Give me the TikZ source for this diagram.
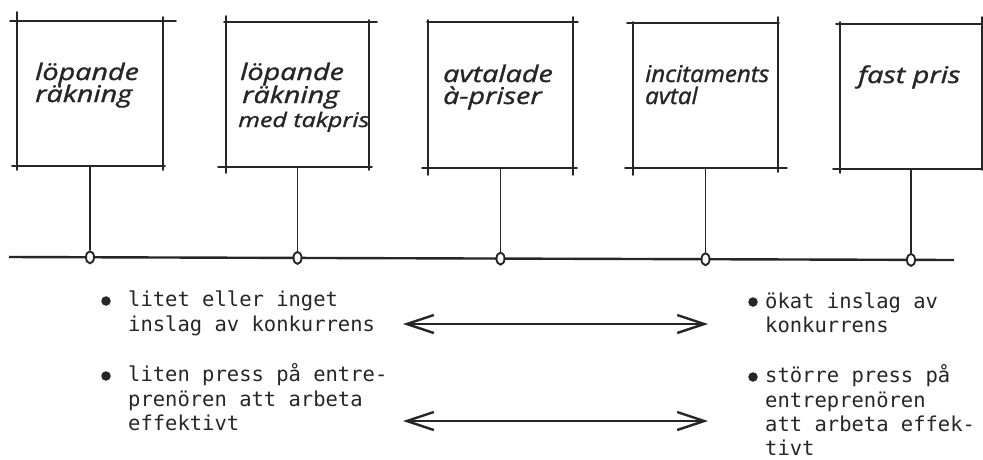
\documentclass[tikz,border=0pt]{standalone}
\usepackage{fontspec}
\usetikzlibrary{arrows.meta,shapes.geometric}
\newfontfamily\handfont[FakeStretch=1.25,FakeBold=1.3]{Open Sans}
\newfontfamily\handnarrow[FakeStretch=1.05,FakeBold=1.3]{Open Sans}
\newfontfamily\typefont{DejaVu Sans Mono}
\definecolor{ink}{HTML}{262626}
\tikzset{
  boxarea/.style={rectangle,draw=none,inner sep=0pt,outer sep=0pt},
  boxline/.style={draw=ink,line width=1.8pt,line cap=round},
  stem/.style={draw=ink,line width=1.2pt},
  mainline/.style={draw=ink,line width=2.4pt},
  knot/.style={ellipse,draw=ink,fill=white,line width=1.9pt,minimum width=8pt,minimum height=12pt,inner sep=0pt},
  hand/.style={anchor=base west,inner sep=0pt,text=ink,font=\handfont\itshape\fontsize{23}{23}\selectfont},
  handsmall/.style={hand,font=\handfont\itshape\fontsize{20}{20}\selectfont},
  handmid/.style={hand,font=\handnarrow\itshape\fontsize{23}{23}\selectfont},
  typed/.style={anchor=base west,inner sep=0pt,text=ink,font=\typefont\fontsize{20.5}{24}\selectfont},
  bullet/.style={circle,fill=ink,inner sep=0pt,minimum size=9.5pt},
  dblarrow/.style={draw=ink,line width=2pt,
    {Straight Barb[length=27pt,width=18pt,line width=2.4pt]}-{Straight Barb[length=27pt,width=18pt,line width=2.4pt]}}
}
\begin{document}
\begin{tikzpicture}[x=1pt,y=-1pt]
\fill[white] (0,0) rectangle (983,459);
\useasboundingbox (0,0) rectangle (983,459);

% box areas
\node[boxarea,minimum width=146pt,minimum height=145pt] (b1) at (90,93.5) {};
\node[boxarea,minimum width=143pt,minimum height=145pt] (b2) at (297.5,94.5) {};
\node[boxarea,minimum width=145pt,minimum height=146pt] (b3) at (500.5,95) {};
\node[boxarea,minimum width=145pt,minimum height=145pt] (b4) at (705.5,95.5) {};
\node[boxarea,minimum width=142pt,minimum height=145pt] (b5) at (911,96.5) {};

% box sides, sketched with overshooting ends
\draw[boxline] (10,21) -- (176,21);
\draw[boxline] (12,166) -- (165,166);
\draw[boxline] (17,12) -- (17,170);
\draw[boxline] (163,17) -- (163,170);

\draw[boxline] (224,22) -- (377,22);
\draw[boxline] (218,167) -- (372,167);
\draw[boxline] (226,16) -- (226,173);
\draw[boxline] (369,20) -- (369,170);

\draw[boxline] (427,22) -- (578,22);
\draw[boxline] (422,168) -- (577,168);
\draw[boxline] (428,20) -- (428,175);
\draw[boxline] (573,17) -- (573,175);

\draw[boxline] (627,23) -- (779,23);
\draw[boxline] (625,168) -- (787,168);
\draw[boxline] (633,22) -- (633,175);
\draw[boxline] (778,17) -- (778,172);

\draw[boxline] (836,24) -- (985,24);
\draw[boxline] (833,169) -- (985,169);
\draw[boxline] (840,22) -- (840,173);
\draw[boxline] (982,17) -- (982,170);

% box texts
\node[hand] (t1a) at (35,80) {löpande};
\node[hand] (t1b) at (35,102) {räkning};
\node[hand] (t2a) at (240,80) {löpande};
\node[hand] (t2b) at (242,103) {räkning};
\node[handsmall] (t2c) at (238,127) {med takpris};
\node[hand] (t3a) at (443,82) {avtalade};
\node[hand] (t3b) at (443,104) {à-priser};
\node[handmid] (t4a) at (645,82) {incitaments};
\node[handmid] (t4b) at (645,104) {avtal};
\node[hand] (t5a) at (858,83) {fast pris};

% main line
\coordinate (L) at (9,257);
\coordinate (R) at (954,260);
\draw[mainline] (L) -- (R);

% knots on the line
\node[knot] (c1) at (90,257.3) {};
\node[knot] (c2) at (297.5,257.9) {};
\node[knot] (c3) at (500.5,258.6) {};
\node[knot] (c4) at (705.5,259.2) {};
\node[knot] (c5) at (911,259.9) {};

% stems
\draw[stem] (b1.south) -- (c1.north);
\draw[stem] (b2.south) -- (c2.north);
\draw[stem] (b3.south) -- (c3.north);
\draw[stem] (b4.south) -- (c4.north);
\draw[stem] (b5.south) -- (c5.north);

% left column
\node[bullet] (p1) at (106,301) {};
\node[typed] (l1a) at (128,306.5) {litet eller inget};
\node[typed] (l1b) at (128,331) {inslag av konkurrens};
\node[bullet] (p2) at (106,376) {};
\node[typed] (l2a) at (128,381.5) {liten press på entre-};
\node[typed] (l2b) at (128,406) {prenören att arbeta};
\node[typed] (l2c) at (128,430) {effektivt};

% right column
\node[bullet] (q1) at (753,302) {};
\node[typed] (r1a) at (765,308) {ökat inslag av};
\node[typed] (r1b) at (765,332.5) {konkurrens};
\node[bullet] (q2) at (753,377) {};
\node[typed] (r2a) at (765,382.5) {större press på};
\node[typed] (r2b) at (765,407) {entreprenören};
\node[typed] (r2c) at (765,431) {att arbeta effek-};
\node[typed] (r2d) at (765,455.5) {tivt};

% arrows
\coordinate (a1l) at (403,324);
\coordinate (a1r) at (708,324);
\coordinate (a2l) at (403,421);
\coordinate (a2r) at (708,421);
\draw[dblarrow] (a1l) -- (a1r);
\draw[dblarrow] (a2l) -- (a2r);
\end{tikzpicture}
\end{document}
